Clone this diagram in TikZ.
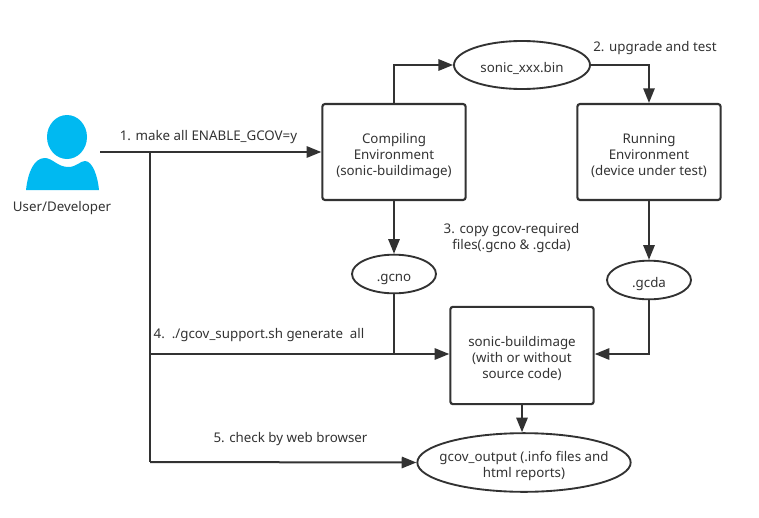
\documentclass[tikz,border=0pt]{standalone}
\usepackage{fontspec}
\setmainfont{Noto Sans}
\usetikzlibrary{shapes.geometric,arrows.meta}
\definecolor{ink}{HTML}{323232}
\definecolor{txt}{HTML}{333333}
\definecolor{sky}{HTML}{00B9F1}
\newcommand\lowr[1]{\raisebox{-3pt}[\height][\depth]{\begin{tabular}{@{}c@{}}#1\end{tabular}}}
\tikzset{
  x=0.75pt,y=-0.75pt,
  every node/.style={text=txt,font=\fontsize{10pt}{12pt}\selectfont,inner sep=0pt},
  boxn/.style={draw=ink,line width=1.6pt,rounded corners=2pt,minimum width=107.5pt,minimum height=72pt},
  ell/.style={draw=ink,line width=1.4pt,ellipse,inner sep=-14pt},
  lbl/.style={anchor=center,align=center},
  conn/.style={draw=ink,line width=1.5pt,-{Triangle[length=11pt,width=8.5pt]}},
  plain/.style={draw=ink,line width=1.5pt},
}
\begin{document}
\begin{tikzpicture}
\useasboundingbox (0,0) rectangle (759,517);
\fill[white] (0,0) rectangle (759,517);
% person
\fill[sky] (67,137) ellipse [x radius=20, y radius=22];
\fill[sky] (26,190) .. controls (28,172) and (34,158) .. (45,158)
  .. controls (52,158) and (58,167) .. (68,167)
  .. controls (77,167) and (80,161) .. (85,161)
  .. controls (93,161) and (98,178) .. (99,190) -- cycle;
\node (user) at (62,208) {User/Developer};
\coordinate (uout) at (100,152);
\coordinate (junc) at (150,152);
\coordinate (j4) at (150,354);
\coordinate (j5) at (150,462);
\coordinate (jg) at (394,354);
\node[boxn] (comp) at (394,152) {\lowr{Compiling\\Environment\\(sonic-buildimage)}};
\node[boxn] (run) at (649,152) {\lowr{Running\\Environment\\(device under test)}};
\node[boxn,minimum height=73pt] (src) at (522,355.5) {\lowr{sonic-buildimage\\(with or without\\ source code)}};
\node[ell,minimum width=102pt,minimum height=36pt] (bin) at (522,65) {\lowr{sonic\_xxx.bin}};
\node[ell,minimum width=63pt,minimum height=29pt] (gcno) at (394,274) {\lowr{.gcno}};
\node[ell,minimum width=63pt,minimum height=29pt] (gcda) at (649,280) {\lowr{.gcda}};
\node[ell,minimum width=160pt,minimum height=44pt,inner sep=-20pt] (out) at (524,462.5) {\lowr{gcov\_output (.info files and\\html reports)}};
\draw[conn] (uout) -- (comp.west |- uout);
\draw[plain,line width=2.2pt] (uout) -- (junc);
\draw[plain,line width=2pt] (junc) -- (j5);
\draw[conn] (j5) -- (out.west);
\draw[conn] (j4) -- (src.west |- j4);
\draw[plain] (gcno) -- (jg);
\draw[conn] (comp.north) |- (bin.west);
\draw[conn] (bin.east) -| (run.north);
\draw[conn] (comp.south) -- (gcno.north);
\draw[conn] (run.south) -- (gcda.north);
\draw[conn] (gcda.south) |- (src.east |- jg);
\draw[conn] (src.south) -- (src.south |- out.north);
\node[lbl] (t1) at (208.5,137) {1. make all ENABLE\_GCOV=y};
\node[lbl] (t2) at (655,48) {2. upgrade and test};
\node[lbl] (t3) at (511.5,238) {3. copy gcov-required\\ files(.gcno \& .gcda)};
\node[lbl] (t4) at (259,335) {4.\ \ ./gcov\_support.sh generate\ \ all};
\node[lbl] (t5) at (290.5,439) {5. check by web browser};
\end{tikzpicture}
\end{document}
